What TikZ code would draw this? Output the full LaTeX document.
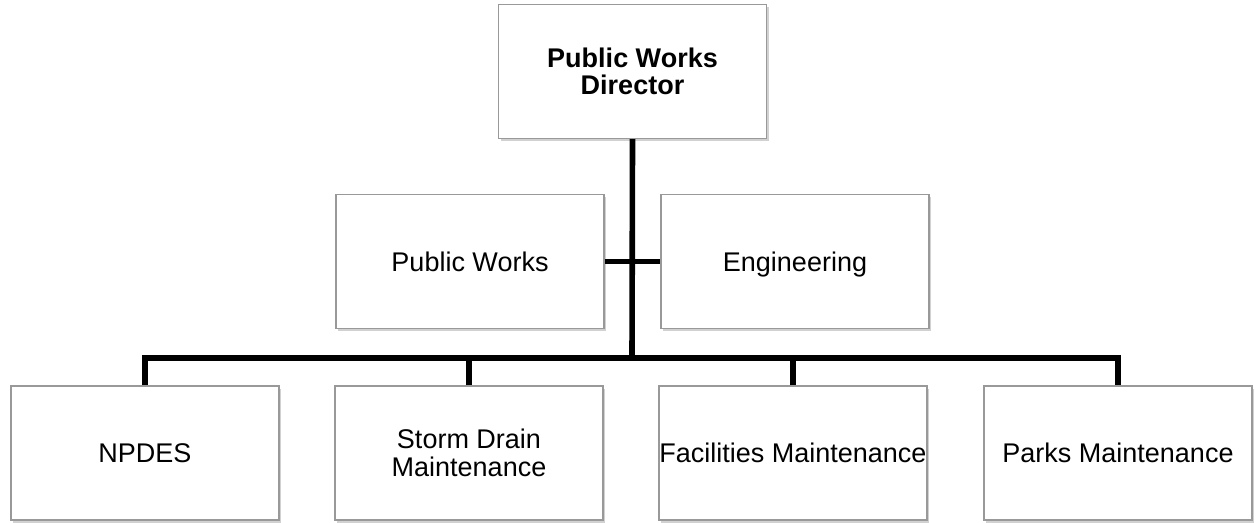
\documentclass[tikz,border=0pt]{standalone}
\usepackage{fontspec}
\setmainfont{Liberation Sans}
\usetikzlibrary{shadows}
\tikzset{
	unit/.style   = {draw = black!40, line width = 0.6pt, fill = white, rectangle,
		minimum width = 134pt, minimum height = 67pt, inner sep = 0pt, align = center,
		font = \fontsize{13.5}{13.7}\selectfont,
		drop shadow = {shadow xshift = 1pt, shadow yshift = -1.5pt, fill = black!30, opacity = 0.6}},
	single/.style = {unit, text height = 9.7pt, text depth = 0pt}, % one line of text
	head/.style   = {unit, font = \fontsize{13.5}{13.7}\selectfont\bfseries},
	link/.style   = {draw, line width = 2.8pt, line join = miter},
	joint/.style  = {coordinate} % bus junction
}

\begin{document}
\begin{tikzpicture}[x = 0.5pt, y = -0.5pt]
	\useasboundingbox (0,0) rectangle (1257,523);
	\draw
	% top of the chart
	node at (632.5,71.5)[head] (dir) {Public Works\\Director}
	% second row
	node at (470,261.5)[single] (pw) {Public Works}
	node at (795,261.5)[single] (eng) {Engineering}
	% bottom row
	node at (145,453)[single] (npdes) {NPDES}
	node at (469,453)[unit] (storm) {Storm Drain\\Maintenance}
	node at (793,453)[single] (fac) {Facilities Maintenance}
	node at (1118,453)[single] (parks) {Parks Maintenance};
	
	\coordinate[joint] (bus) at (632,358);
	
	\draw[link] (dir.south) -- (bus);
	\draw[link] (pw.east) -- (eng.west);
	\draw[link] (npdes.north) -- (npdes.north |- bus) -- (parks.north |- bus) -- (parks.north);
	\draw[link] (storm.north) -- (storm.north |- bus);
	\draw[link] (fac.north) -- (fac.north |- bus);
	
\end{tikzpicture}
\end{document}
